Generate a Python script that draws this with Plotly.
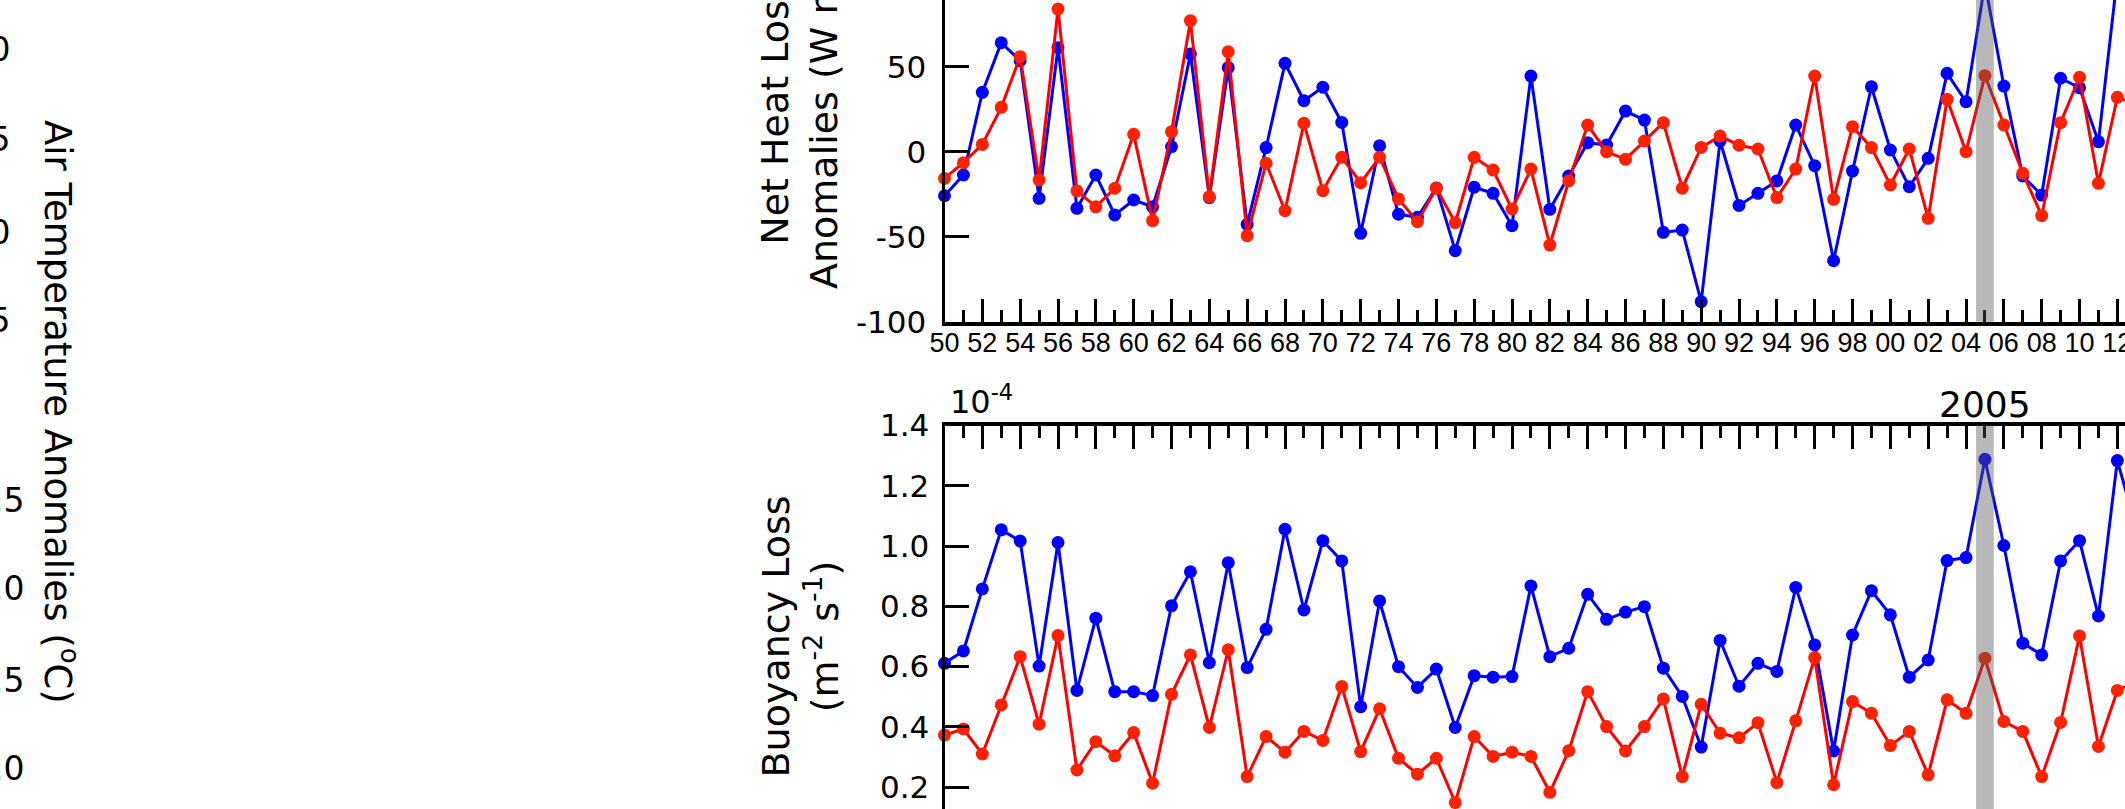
import plotly.graph_objects as go

# ---------------- data ----------------
years = list(range(1950, 2014))

heat_blue = [
    -25.9, -13.7, 34.9, 64.1, 53.5, -27.4, 61.2, -33.3, -13.7, -37.2,
    -28.4, -32.4, 2.9, 57.5, -27.0, 49.4, -42.7, 2.4, 52.0, 30.0,
    37.9, 17.2, -48.0, 3.5, -36.8, -38.6, -21.3, -58.2, -20.9, -24.5,
    -43.5, 44.5, -33.9, -14.3, 5.3, 3.9, 23.9, 18.6, -47.4, -46.1,
    -88.2, 6.3, -31.6, -24.5, -17.2, 15.7, -8.2, -64.1, -11.4, 38.2,
    1.0, -20.6, -3.9, 46.1, 29.4, 99.0, 38.6, -14.3, -25.5, 43.2,
    37.6, 5.9, 103.0, 80.0,
]
heat_red = [
    -15.7, -6.5, 4.3, 26.1, 55.9, -16.6, 83.9, -23.1, -32.4, -21.5,
    10.2, -40.6, 11.8, 77.1, -26.5, 58.8, -49.4, -6.8, -34.7, 16.7,
    -22.9, -3.3, -18.2, -3.3, -27.8, -41.2, -21.5, -41.8, -3.3, -10.8,
    -33.7, -10.2, -54.9, -17.2, 15.7, 0.0, -4.5, 6.3, 17.1, -21.5,
    2.5, 9.2, 3.8, 1.6, -27.0, -10.2, 44.5, -28.0, 14.7, 2.4,
    -19.6, 1.6, -39.2, 30.8, 0.0, 44.7, 15.7, -12.7, -37.6, 17.1,
    43.8, -18.6, 32.0, 28.0,
]
buoy_blue = [
    0.611, 0.652, 0.858, 1.054, 1.017, 0.602, 1.012, 0.521, 0.761, 0.517,
    0.517, 0.504, 0.802, 0.915, 0.613, 0.945, 0.597, 0.724, 1.056, 0.788,
    1.018, 0.951, 0.467, 0.818, 0.600, 0.531, 0.592, 0.398, 0.570, 0.565,
    0.567, 0.868, 0.633, 0.661, 0.840, 0.757, 0.781, 0.799, 0.595, 0.501,
    0.333, 0.687, 0.535, 0.611, 0.584, 0.863, 0.672, 0.320, 0.705, 0.852,
    0.772, 0.565, 0.622, 0.952, 0.962, 1.288, 1.002, 0.678, 0.639, 0.951,
    1.018, 0.768, 1.284, 1.060,
]
buoy_red = [
    0.373, 0.393, 0.310, 0.473, 0.633, 0.409, 0.703, 0.257, 0.351, 0.304,
    0.381, 0.213, 0.508, 0.639, 0.398, 0.656, 0.235, 0.368, 0.316, 0.385,
    0.355, 0.534, 0.318, 0.460, 0.296, 0.243, 0.296, 0.149, 0.368, 0.302,
    0.316, 0.302, 0.183, 0.321, 0.517, 0.401, 0.320, 0.401, 0.493, 0.235,
    0.475, 0.379, 0.364, 0.414, 0.215, 0.420, 0.630, 0.208, 0.484, 0.445,
    0.338, 0.385, 0.241, 0.490, 0.445, 0.628, 0.418, 0.385, 0.235, 0.415,
    0.702, 0.335, 0.521, 0.550,
]

major_years = list(range(1950, 2014, 2))
minor_years = list(range(1951, 2014, 2))
major_labels = ["%02d" % (y % 100) for y in major_years]

heat_ticks = [-100, -50, 0, 50]
heat_ticklabels = ["-100", "-50", "0", "50"]
buoy_ticks = [0.2, 0.4, 0.6, 0.8, 1.0, 1.2, 1.4]
buoy_ticklabels = ["%.1f" % v for v in buoy_ticks]

highlight_year = 2005

# left (off-screen) panel tick labels
left_upper_labels = ["1.0", "0.5", "0.0", "-0.5"]
left_lower_labels = ["1.5", "1.0", "0.5", "0.0"]

# ---------------- layout geometry ----------------
W, H = 2125, 809
X0_PX = 944.5          # pixel of year 1950 (y-axis line)
YEAR_PX = 18.917       # pixels per year
TOP_BOTTOM_PX = 321.7  # bottom of top panel
TOP_PX_PER_UNIT = 1.7
BOT_TOP_PX = 425.6     # top of bottom panel
BOT_PX_PER_UNIT = 301.3

x_range = [1950, 1950 + (W - X0_PX) / YEAR_PX]
top_range = [-100, -100 + TOP_BOTTOM_PX / TOP_PX_PER_UNIT]
bot_range = [1.4 - (H - BOT_TOP_PX) / BOT_PX_PER_UNIT, 1.4]

BLUE = "#0000ff"
RED_LINE = "#ff0000"
RED_MARK = "#ff2200"
FONT = "DejaVu Sans"


def px(xp):
    return xp / W


def py(yp):
    return 1 - yp / H


fig = go.Figure()


def add_pair(blue, red, xa, ya):
    fig.add_trace(go.Scatter(
        x=years, y=blue, mode="lines+markers", xaxis=xa, yaxis=ya,
        line=dict(color=BLUE, width=3),
        marker=dict(color=BLUE, size=13, line=dict(width=0)),
        cliponaxis=False, showlegend=False, hoverinfo="skip"))
    fig.add_trace(go.Scatter(
        x=years, y=red, mode="lines+markers", xaxis=xa, yaxis=ya,
        line=dict(color=RED_LINE, width=3),
        marker=dict(color=RED_MARK, size=13, line=dict(width=0)),
        cliponaxis=False, showlegend=False, hoverinfo="skip"))


add_pair(heat_blue, heat_red, "x", "y")
add_pair(buoy_blue, buoy_red, "x2", "y2")

minor_cfg = dict(ticks="inside", ticklen=12, tickwidth=3, tickcolor="black",
                 tickmode="array", tickvals=minor_years, showgrid=False)

common_x = dict(
    domain=[px(X0_PX), 1], range=x_range, showline=True, linecolor="black",
    linewidth=4, ticks="inside", ticklen=23, tickwidth=3, tickcolor="black",
    tickmode="array", tickvals=major_years, showgrid=False, zeroline=False,
    minor=minor_cfg, automargin=False,
)

fig.update_layout(
    template="none",
    width=W, height=H, autosize=False,
    margin=dict(l=0, r=0, t=0, b=0, pad=0),
    paper_bgcolor="white", plot_bgcolor="white",
    xaxis=dict(common_x, anchor="y", side="bottom", ticktext=major_labels,
               tickfont=dict(family="Arial", size=27, color="black"),
               ticklabelstandoff=-6, ticklabeloverflow="allow"),
    yaxis=dict(domain=[py(TOP_BOTTOM_PX), 1], range=top_range, anchor="x",
               showline=True, linecolor="black", linewidth=3,
               ticks="inside", ticklen=24, tickwidth=3, tickcolor="black",
               tickmode="array", tickvals=heat_ticks, ticktext=heat_ticklabels,
               tickfont=dict(family=FONT, size=31, color="black"),
               ticklabelstandoff=9, showgrid=False, zeroline=False,
               automargin=False),
    xaxis2=dict(common_x, anchor="y2", side="top", showticklabels=False),
    yaxis2=dict(domain=[0, py(BOT_TOP_PX)], range=bot_range, anchor="x2",
                showline=True, linecolor="black", linewidth=3,
                ticks="inside", ticklen=24, tickwidth=3, tickcolor="black",
                tickmode="array", tickvals=buoy_ticks, ticktext=buoy_ticklabels,
                tickfont=dict(family=FONT, size=31, color="black"),
                ticklabelstandoff=6, showgrid=False, zeroline=False,
                automargin=False),
)

# highlighted year band (drawn over the data)
band_half = 0.467
for xr, yr in (("x", "y domain"), ("x2", "y2 domain")):
    fig.add_shape(type="rect", xref=xr, yref=yr,
                  x0=highlight_year - band_half, x1=highlight_year + band_half,
                  y0=0, y1=1, line=dict(width=0),
                  fillcolor="rgba(86,86,86,0.42)", layer="above")

ann = []
ann.append(dict(text="Net Heat Loss<br>Anomalies (W m<sup>-2</sup>)",
                x=px(800), y=py(113), textangle=-90,
                font=dict(family=FONT, size=38, color="black")))
ann.append(dict(text="Buoyancy Loss<br>(m<sup>-2</sup> s<sup>-1</sup>)",
                x=px(800), y=py(636.5), textangle=-90,
                font=dict(family=FONT, size=38, color="black")))
ann.append(dict(text="10<sup>-4</sup>", x=px(948), y=py(400),
                xanchor="left",
                font=dict(family=FONT, size=32, color="black")))
ann.append(dict(text=str(highlight_year), x=highlight_year, xref="x2",
                y=py(404), yref="paper",
                font=dict(family=FONT, size=36, color="black")))
ann.append(dict(text="Air Temperature Anomalies (<sup>o</sup>C)",
                x=px(61), y=py(412), textangle=90,
                font=dict(family=FONT, size=37, color="black")))
for lab, yc in zip(left_upper_labels, [49, 139, 232, 320]):
    ann.append(dict(text=lab, x=px(12), y=py(yc), xanchor="right",
                    font=dict(family=FONT, size=33, color="black")))
for lab, yc in zip(left_lower_labels, [500, 588, 680, 768]):
    ann.append(dict(text=lab, x=px(26), y=py(yc), xanchor="right",
                    font=dict(family=FONT, size=33, color="black")))

for a in ann:
    a.setdefault("xref", "paper")
    a.setdefault("yref", "paper")
    a.setdefault("xanchor", "center")
    a.setdefault("yanchor", "middle")
    a["showarrow"] = False
    fig.add_annotation(**a)

fig.write_html(
    "out.html",
    config={"displayModeBar": False},
    post_script="document.body.style.margin='0';document.body.style.overflow='hidden';",
)
